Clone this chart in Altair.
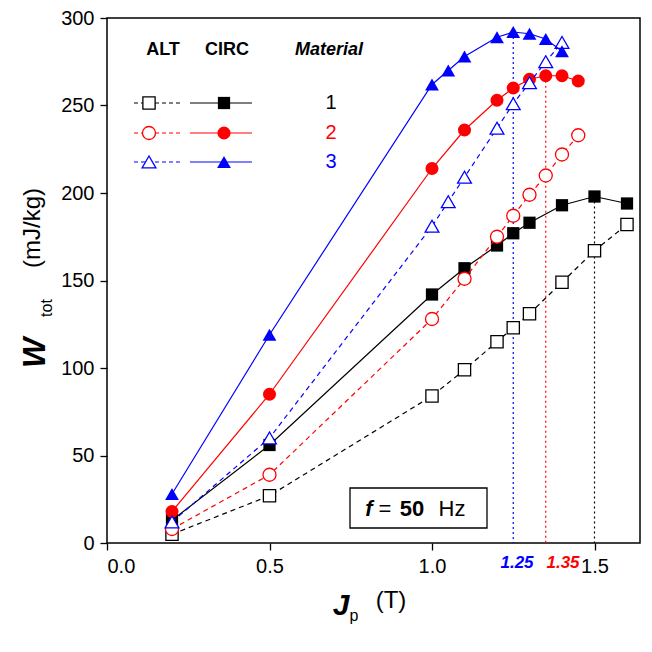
import altair as alt
import pandas as pd

# Jp (T) values and total loss W_tot (mJ/kg)
alt1_x = [0.2, 0.5, 1.0, 1.1, 1.2, 1.25, 1.3, 1.4, 1.5, 1.6]
alt1_y = [5, 27, 84, 99, 115, 123, 131, 149, 167, 182]
circ1_x = [0.2, 0.5, 1.0, 1.1, 1.2, 1.25, 1.3, 1.4, 1.5, 1.6]
circ1_y = [13, 56, 142, 157, 170, 177, 183, 193, 198, 194]
alt2_x = [0.2, 0.5, 1.0, 1.1, 1.2, 1.25, 1.3, 1.35, 1.4, 1.45]
alt2_y = [8, 39, 128, 151, 175, 187, 199, 210, 222, 233]
circ2_x = [0.2, 0.5, 1.0, 1.1, 1.2, 1.25, 1.3, 1.35, 1.4, 1.45]
circ2_y = [18, 85, 214, 236, 253, 260, 265, 267, 267, 264]
alt3_x = [0.2, 0.5, 1.0, 1.05, 1.1, 1.2, 1.25, 1.3, 1.35, 1.4]
alt3_y = [12, 60, 181, 195, 209, 237, 251, 263, 275, 286]
circ3_x = [0.2, 0.5, 1.0, 1.05, 1.1, 1.2, 1.25, 1.3, 1.35, 1.4]
circ3_y = [28, 119, 262, 270, 278, 289, 292, 291, 288, 281]

peak_x = [1.25, 1.35, 1.5]
peak_y = [292, 267, 198]
peak_c = ["blue", "red", "black"]

W, H = 533, 525
xs = alt.Scale(domain=[0, 1.64], nice=False)
ys = alt.Scale(domain=[0, 300], nice=False)
FONT = "Liberation Sans"
SIZES = {"square": 150, "circle": 170, "triangle-up": 190}

series = [
    (alt1_x, alt1_y, "black", "square", False),
    (circ1_x, circ1_y, "black", "square", True),
    (alt2_x, alt2_y, "red", "circle", False),
    (circ2_x, circ2_y, "red", "circle", True),
    (alt3_x, alt3_y, "blue", "triangle-up", False),
    (circ3_x, circ3_y, "blue", "triangle-up", True),
]


def label(t, px, py, fs, sty="normal", wt="normal", col="black", angle=0):
    return alt.Chart(pd.DataFrame({"t": [t]})).mark_text(
        fontSize=fs, fontStyle=sty, fontWeight=wt, color=col, font=FONT, angle=angle
    ).encode(text="t:N", x=alt.value(px), y=alt.value(py))


xax = alt.Axis(values=[0, 0.5, 1.0, 1.5], format=".1f", title=None, tickSize=7,
               labelFontSize=20, labelFont=FONT, grid=False, domain=False, labelPadding=6)
yax = alt.Axis(values=[0, 50, 100, 150, 200, 250, 300], title=None, labelFontSize=20,
               labelFont=FONT, grid=False, domain=False, labelPadding=6, tickSize=7)

layers = []
pk = pd.DataFrame({"x": peak_x, "y": peak_y, "c": peak_c})
layers.append(alt.Chart(pk).mark_rule(strokeDash=[2, 3], strokeWidth=1.2).encode(
    x=alt.X("x:Q", scale=xs, axis=xax), y=alt.Y("y:Q", scale=ys, axis=yax),
    y2=alt.datum(0), color=alt.Color("c:N", scale=None)))

for xv, yv, col, shp, filled in series:
    d = pd.DataFrame({"x": xv, "y": yv})
    base = alt.Chart(d).encode(x=alt.X("x:Q", scale=xs), y=alt.Y("y:Q", scale=ys))
    line = base.mark_line(color=col, strokeWidth=1.2, strokeDash=[] if filled else [5, 4])
    pts = base.mark_point(shape=shp, size=SIZES[shp], filled=filled, color=col,
                          fill=col if filled else "white", strokeWidth=1.3, opacity=1)
    layers += [line, pts]

# legend samples (pixel positions)
one = pd.DataFrame({"a": [0]})
for col, shp, lab, yv in [("black", "square", "1", 85), ("red", "circle", "2", 115),
                          ("blue", "triangle-up", "3", 144)]:
    layers.append(alt.Chart(one).mark_rule(color=col, strokeDash=[4, 3]).encode(
        x=alt.value(27), x2=alt.value(73), y=alt.value(yv)))
    layers.append(alt.Chart(one).mark_rule(color=col).encode(
        x=alt.value(83), x2=alt.value(145), y=alt.value(yv)))
    layers.append(alt.Chart(one).mark_point(
        shape=shp, size=SIZES[shp], color=col, fill="white", opacity=1, strokeWidth=1.3).encode(
        x=alt.value(42), y=alt.value(yv)))
    layers.append(alt.Chart(one).mark_point(
        shape=shp, size=SIZES[shp], color=col, filled=True, opacity=1).encode(
        x=alt.value(117), y=alt.value(yv)))
    layers.append(label(lab, 224, yv, 20, col=col))

for t, px, st in [("ALT", 56, "normal"), ("CIRC", 120, "normal"), ("Material", 222, "italic")]:
    layers.append(label(t, px, 32, 18, sty=st, wt="bold"))

# f = 50 Hz box
layers.append(alt.Chart(one).mark_rect(fill="white", stroke="black", strokeWidth=1.3).encode(
    x=alt.value(243), x2=alt.value(380), y=alt.value(470), y2=alt.value(510)))
for t, px, sty, wt in [("f", 262, "italic", "bold"), ("=", 278, "normal", "normal"),
                       ("50", 305, "normal", "bold"), ("Hz", 345, "normal", "normal")]:
    layers.append(label(t, px, 491, 22, sty=sty, wt=wt))

# peak labels below axis
layers.append(label("1.25", 410, 545, 17, sty="italic", wt="bold", col="blue"))
layers.append(label("1.35", 456, 545, 17, sty="italic", wt="bold", col="red"))

# axis titles
layers.append(label("J", 234, 588, 30, sty="italic", wt="bold"))
layers.append(label("p", 247, 598, 16))
layers.append(label("(T)", 284, 583, 24))
layers.append(label("W", -72, 335, 32, sty="italic", wt="bold", angle=270))
layers.append(label("tot", -60, 290, 16, angle=270))
layers.append(label("(mJ/kg)", -74, 210, 24, angle=270))

chart = alt.layer(*layers).properties(
    width=W, height=H, autosize=alt.AutoSizeParams(type="none"),
    padding={"left": 99, "top": 10, "right": 4, "bottom": 90},
).configure_view(stroke="black", strokeWidth=1.5).configure_axis(
    tickColor="black", tickWidth=1.3, labelColor="black")

chart.save("out.html", embed_options={"renderer": "svg", "actions": False})
